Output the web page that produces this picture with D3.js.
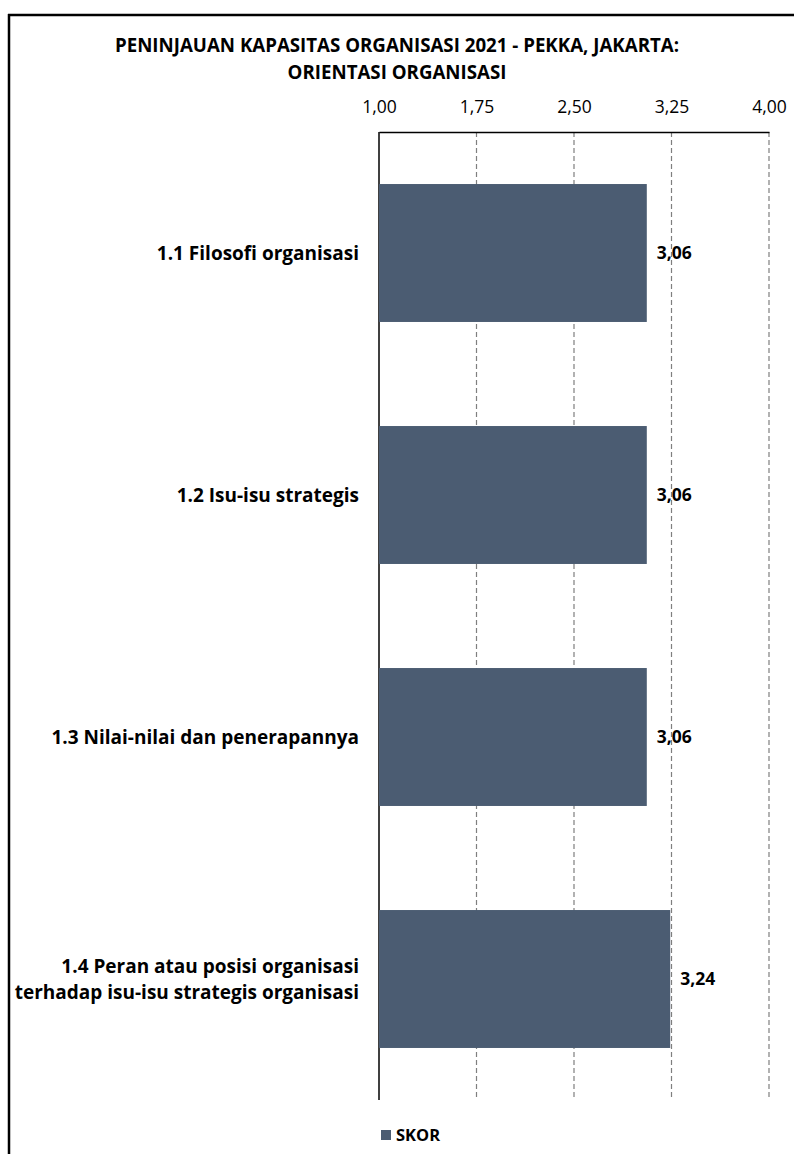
<!DOCTYPE html>
<html>
<head>
<meta charset="utf-8">
<script src="https://cdn.jsdelivr.net/npm/d3@7"></script>
<style>
  html, body { margin: 0; padding: 0; background: #fff; }
  svg { display: block; }
  text { font-family: "Open Sans", "Noto Sans", sans-serif; fill: #000; }
</style>
</head>
<body>
<svg id="chart" width="794" height="1154"></svg>
<script>
// Chart data
const titleLines = ["PENINJAUAN KAPASITAS ORGANISASI 2021 - PEKKA, JAKARTA:", "ORIENTASI ORGANISASI"];
const categories = [
  ["1.1 Filosofi organisasi"],
  ["1.2 Isu-isu strategis"],
  ["1.3 Nilai-nilai dan penerapannya"],
  ["1.4 Peran atau posisi organisasi", "terhadap isu-isu strategis organisasi"]
];
const scores = [3.06, 3.06, 3.06, 3.24];
const tickValues = [1.00, 1.75, 2.50, 3.25, 4.00];
const seriesName = "SKOR";

const barColor = "#4b5c72";
const svg = d3.select("#chart");

// Outer frame: top and left edges
svg.append("line").attr("x1", 8).attr("x2", 794).attr("y1", 15).attr("y2", 15)
  .attr("stroke", "#000").attr("stroke-width", 2.5);
svg.append("line").attr("x1", 9).attr("x2", 9).attr("y1", 14).attr("y2", 1154)
  .attr("stroke", "#000").attr("stroke-width", 2.5);

// Title
svg.append("g").selectAll("text").data(titleLines).join("text")
  .attr("x", 397).attr("y", (d, i) => 45 + i * 27)
  .attr("dy", "0.35em")
  .attr("text-anchor", "middle")
  .attr("font-weight", "bold").attr("font-size", 18.7)
  .text(d => d);

const plot = { left: 379, right: 769, top: 132, bottom: 1100 };

const x = d3.scaleLinear().domain([1, 4]).range([plot.left, plot.right]);
const y = d3.scaleBand().domain(d3.range(categories.length))
  .range([plot.top, plot.bottom]).paddingInner(0.43).paddingOuter(0.215);

const fmt = v => d3.format(".2f")(v).replace(".", ",");

// Dashed gridlines
svg.append("g").selectAll("line").data(tickValues.slice(1)).join("line")
  .attr("x1", d => x(d)).attr("x2", d => x(d))
  .attr("y1", plot.top).attr("y2", plot.bottom)
  .attr("stroke", "#7f7f7f").attr("stroke-width", 1.2)
  .attr("stroke-dasharray", "5,3");

// Top axis
const axis = svg.append("g").attr("transform", `translate(0,${plot.top})`)
  .call(d3.axisTop(x).tickValues(tickValues).tickFormat(fmt).tickSize(0).tickPadding(19));
axis.select(".domain").attr("stroke", "#000").attr("stroke-width", 1.3);
axis.selectAll("text").attr("font-size", 17.5)
  .attr("font-family", "\"Open Sans\", sans-serif").attr("fill", "#000");

// Left baseline
svg.append("line").attr("x1", x(1)).attr("x2", x(1))
  .attr("y1", plot.top).attr("y2", plot.bottom)
  .attr("stroke", "#000").attr("stroke-width", 1.5);

// Bars
svg.append("g").selectAll("rect").data(scores).join("rect")
  .attr("x", x(1)).attr("y", (d, i) => y(i))
  .attr("width", d => x(d) - x(1)).attr("height", y.bandwidth())
  .attr("fill", barColor);

// Value labels
svg.append("g").selectAll("text").data(scores).join("text")
  .attr("x", d => x(d) + 10)
  .attr("y", (d, i) => y(i) + y.bandwidth() / 2)
  .attr("dy", "0.35em")
  .attr("font-weight", "bold").attr("font-size", 17.5)
  .text(d => fmt(d));

// Category labels
const catG = svg.append("g").selectAll("text").data(categories).join("text")
  .attr("text-anchor", "end")
  .attr("font-weight", "bold").attr("font-size", 19);
catG.each(function(lines, i) {
  const cy = y(i) + y.bandwidth() / 2;
  const lh = 26;
  const t = d3.select(this);
  lines.forEach((ln, j) => {
    t.append("tspan").attr("x", 359)
      .attr("y", cy + (j - (lines.length - 1) / 2) * lh)
      .attr("dy", "0.35em").text(ln);
  });
});

// Legend
const lg = svg.append("g").attr("transform", "translate(381,1130)");
lg.append("rect").attr("width", 10).attr("height", 10).attr("fill", barColor);
lg.append("text").attr("x", 15).attr("y", 5).attr("dy", "0.35em")
  .attr("font-weight", "bold").attr("font-size", 16.5)
  .text(seriesName);
</script>
</body>
</html>
